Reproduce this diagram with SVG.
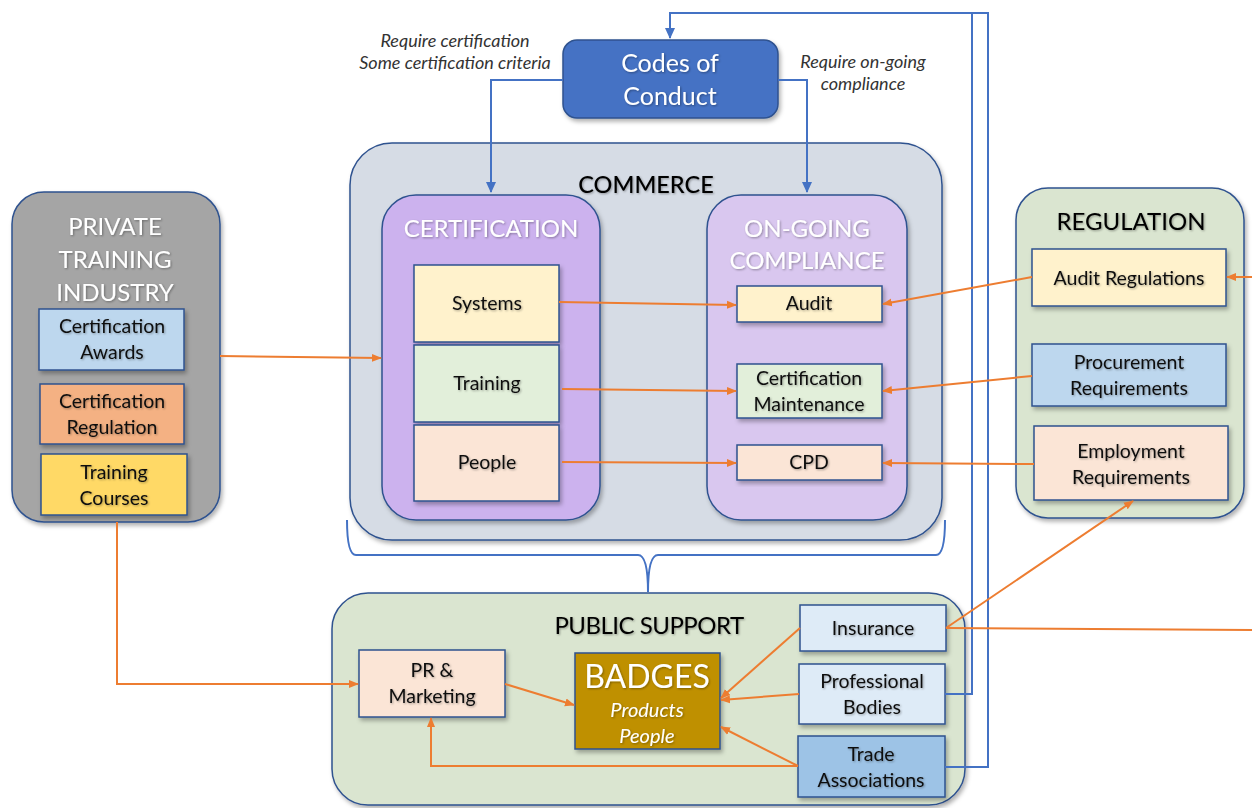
<svg xmlns="http://www.w3.org/2000/svg" width="1252" height="808" viewBox="0 0 1252 808">
<defs>
<filter id="sh" x="-10%" y="-10%" width="130%" height="130%"><feDropShadow dx="2" dy="3" stdDeviation="2" flood-color="#000" flood-opacity="0.3"/></filter>
<filter id="ts" x="-10%" y="-20%" width="120%" height="150%"><feDropShadow dx="1" dy="1" stdDeviation="1" flood-color="#000" flood-opacity="0.35"/></filter>
<marker id="ao" markerWidth="10" markerHeight="10" refX="9" refY="5" orient="auto" markerUnits="userSpaceOnUse"><path d="M0,1 L10,5 L0,9 Z" fill="#ED7D31"/></marker>
<marker id="ab" markerWidth="12" markerHeight="12" refX="10" refY="6" orient="auto" markerUnits="userSpaceOnUse"><path d="M0,1 L11,6 L0,11 Z" fill="#4472C4"/></marker>
</defs>
<style>
text{font-family:Lato,"Open Sans","Liberation Sans",sans-serif;text-anchor:middle;}
.box{stroke:#2F528F;stroke-width:1.5;filter:url(#sh);}
.grp{stroke:#2F528F;stroke-width:1.5;filter:url(#sh);}
.t{font-size:19.5px;fill:#111;filter:url(#ts);}
.tw{font-size:24px;fill:#fff;filter:url(#ts);}
.tb{font-size:24px;fill:#000;filter:url(#ts);}
.it{font-size:18px;font-style:italic;fill:#333;}
.or{stroke:#ED7D31;stroke-width:2;fill:none;}
.bl{stroke:#4472C4;stroke-width:2;fill:none;}
</style>
<rect width="1252" height="808" fill="#fff"/>

<g id="commerce">
<rect class="grp" x="350" y="143" width="592" height="397" rx="42" fill="#D6DCE5"/>
<text class="tb" x="646" y="193" style="font-size:23.5px;font-weight:500">COMMERCE</text>
</g>
<g id="certification">
<rect class="grp" x="382" y="195" width="218" height="325" rx="34" fill="#CCB2EE"/>
<text class="tw" x="491" y="237">CERTIFICATION</text>
</g>
<g id="systems"><rect class="box" x="414" y="265" width="145" height="77" fill="#FFF2CC"/><text class="t" x="487" y="310">Systems</text></g>
<g id="training"><rect class="box" x="414" y="345" width="145" height="77" fill="#E2EFDA"/><text class="t" x="487" y="390">Training</text></g>
<g id="people"><rect class="box" x="414" y="425" width="145" height="76" fill="#FBE5D6"/><text class="t" x="487" y="469">People</text></g>

<g id="ongoing">
<rect class="grp" x="707" y="195" width="200" height="325" rx="34" fill="#D9C7EF"/>
<text class="tw" x="807" y="237">ON-GOING</text>
<text class="tw" x="807" y="269">COMPLIANCE</text>
</g>
<g id="audit"><rect class="box" x="737" y="286" width="145" height="36" fill="#FFF2CC"/><text class="t" x="809" y="310">Audit</text></g>
<g id="certmaint"><rect class="box" x="737" y="364" width="145" height="54" fill="#E2EFDA"/><text class="t" x="809" y="385">Certification</text><text class="t" x="809" y="411">Maintenance</text></g>
<g id="cpd"><rect class="box" x="737" y="445" width="145" height="35" fill="#FBE5D6"/><text class="t" x="809" y="469">CPD</text></g>

<g id="codes">
<rect class="box" x="563" y="40" width="215" height="78" rx="14" fill="#4472C4"/>
<text class="tw" x="670" y="72" style="font-size:25px">Codes of</text>
<text class="tw" x="670" y="105" style="font-size:25px">Conduct</text>
</g>

<g id="private">
<rect class="grp" x="12" y="192" width="208" height="330" rx="32" fill="#A5A5A5"/>
<text class="tw" x="115" y="235">PRIVATE</text>
<text class="tw" x="115" y="268">TRAINING</text>
<text class="tw" x="115" y="301">INDUSTRY</text>
</g>
<g id="certawards"><rect class="box" x="39" y="309" width="145" height="61" fill="#BDD7EE"/><text class="t" x="112" y="333">Certification</text><text class="t" x="112" y="359">Awards</text></g>
<g id="certreg"><rect class="box" x="40" y="384" width="144" height="60" fill="#F4B183"/><text class="t" x="112" y="408">Certification</text><text class="t" x="112" y="434">Regulation</text></g>
<g id="courses"><rect class="box" x="41" y="454" width="146" height="61" fill="#FFD966"/><text class="t" x="114" y="479">Training</text><text class="t" x="114" y="505">Courses</text></g>

<g id="regulation">
<rect class="grp" x="1016" y="188" width="228" height="330" rx="32" fill="#DAE5D0"/>
<text class="tb" x="1131" y="230">REGULATION</text>
</g>
<g id="auditreg"><rect class="box" x="1032" y="249" width="194" height="57" fill="#FFF2CC"/><text class="t" x="1129" y="285">Audit Regulations</text></g>
<g id="procure"><rect class="box" x="1032" y="344" width="194" height="62" fill="#BDD7EE"/><text class="t" x="1129" y="369">Procurement</text><text class="t" x="1129" y="395">Requirements</text></g>
<g id="employ"><rect class="box" x="1034" y="426" width="194" height="74" fill="#FBE5D6"/><text class="t" x="1131" y="458">Employment</text><text class="t" x="1131" y="484">Requirements</text></g>

<g id="public">
<rect class="grp" x="332" y="593" width="633" height="212" rx="36" fill="#DAE5D0"/>
<text class="tb" x="649" y="634" style="letter-spacing:-0.5px">PUBLIC SUPPORT</text>
</g>
<g id="pr"><rect class="box" x="359" y="650" width="146" height="67" fill="#FBE5D6"/><text class="t" x="432" y="677">PR &amp;</text><text class="t" x="432" y="703">Marketing</text></g>
<g id="badges"><rect class="box" x="575" y="653" width="145" height="96" fill="#BF9000"/><text class="tw" x="647" y="688" style="font-size:32px">BADGES</text><text class="tw" x="647" y="717" style="font-size:20px;font-style:italic">Products</text><text class="tw" x="647" y="743" style="font-size:20px;font-style:italic">People</text></g>
<g id="insurance"><rect class="box" x="800" y="605" width="146" height="46" fill="#DEEBF7"/><text class="t" x="873" y="635">Insurance</text></g>
<g id="profbodies"><rect class="box" x="799" y="664" width="146" height="60" fill="#DEEBF7"/><text class="t" x="872" y="688">Professional</text><text class="t" x="872" y="714">Bodies</text></g>
<g id="trade"><rect class="box" x="798" y="736" width="147" height="61" fill="#9DC3E6"/><text class="t" x="871" y="761">Trade</text><text class="t" x="871" y="787">Associations</text></g>

<g id="labels">
<text class="it" x="455" y="47">Require certification</text>
<text class="it" x="455" y="69">Some certification criteria</text>
<text class="it" x="863" y="68">Require on-going</text>
<text class="it" x="863" y="90">compliance</text>
</g>

<g id="connectors">
<path class="bl" d="M563,80 H491 V192" marker-end="url(#ab)"/>
<path class="bl" d="M778,80 H807 V192" marker-end="url(#ab)"/>
<path class="bl" d="M945,767 H988 V13 H670 V38" marker-end="url(#ab)"/>
<path class="bl" d="M945,694 H972 V13"/>
<path class="bl" d="M347,520 Q347,555 356,555 H638 Q648,555 648,592 Q648,555 658,555 H936 Q945,555 945,520"/>
<path class="or" d="M220,356 L381,358" marker-end="url(#ao)"/>
<path class="or" d="M117,522 V684 H358" marker-end="url(#ao)"/>
<path class="or" d="M559,302 L736,305" marker-end="url(#ao)"/>
<path class="or" d="M562,389 L736,391" marker-end="url(#ao)"/>
<path class="or" d="M562,462 L736,463" marker-end="url(#ao)"/>
<path class="or" d="M1032,277 L883,304" marker-end="url(#ao)"/>
<path class="or" d="M1032,376 L883,391" marker-end="url(#ao)"/>
<path class="or" d="M1034,464 L883,463" marker-end="url(#ao)"/>
<path class="or" d="M1252,277 L1227,277" marker-end="url(#ao)"/>
<path class="or" d="M946,628 L1133,501" marker-end="url(#ao)"/>
<path class="or" d="M946,628 L1252,630"/>
<path class="or" d="M505,684 L574,705" marker-end="url(#ao)"/>
<path class="or" d="M800,628 L721,698" marker-end="url(#ao)"/>
<path class="or" d="M799,694 L721,700" marker-end="url(#ao)"/>
<path class="or" d="M798,766 L721,727" marker-end="url(#ao)"/>
<path class="or" d="M798,766 H431 V718" marker-end="url(#ao)"/>
</g>
</svg>
